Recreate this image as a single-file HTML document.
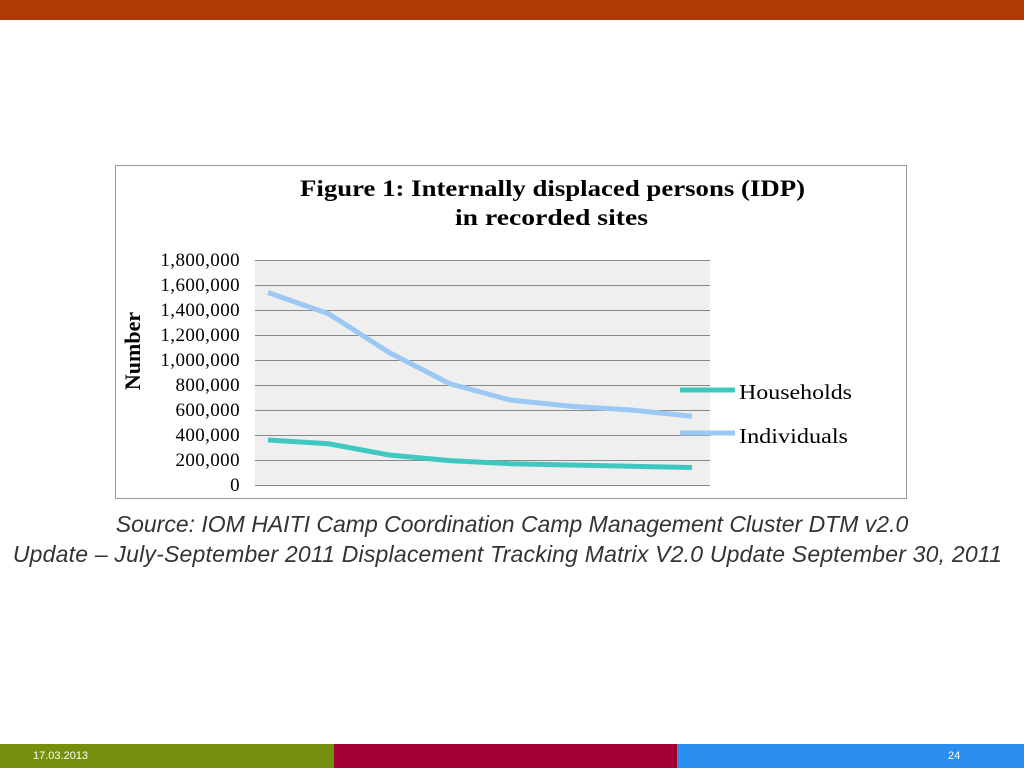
<!DOCTYPE html>
<html><head><meta charset="utf-8"><style>
body{margin:0;width:1024px;height:768px;position:relative;background:#fff;overflow:hidden;font-family:"Liberation Sans",sans-serif}
.abs{position:absolute}
</style></head><body>
<div class="abs" style="left:0;top:0;width:1024px;height:20px;background:#b03a04"></div>
<svg class="abs" style="left:0;top:0" width="1024" height="768">
<rect x="115.5" y="165.5" width="791" height="333" fill="#fff" stroke="#999"/>
<text x="300" y="196" textLength="505" lengthAdjust="spacingAndGlyphs" font-family="Liberation Serif" font-weight="bold" font-size="23">Figure 1: Internally displaced persons (IDP)</text>
<text x="455" y="225" textLength="193" lengthAdjust="spacingAndGlyphs" font-family="Liberation Serif" font-weight="bold" font-size="23">in recorded sites</text>
<rect x="255" y="260" width="455" height="225" fill="#efefef"/>
<g id="grid"></g><g id="ylab"></g><g id="lines"></g>
<text transform="translate(140,351) rotate(-90)" text-anchor="middle" font-family="Liberation Serif" font-weight="bold" font-size="22">Number</text>
<line x1="680" y1="390" x2="735" y2="390" stroke="#3ec8c0" stroke-width="5"/>
<text x="739" y="399" textLength="113" lengthAdjust="spacingAndGlyphs" font-family="Liberation Serif" font-size="21">Households</text>
<line x1="680" y1="433" x2="735" y2="433" stroke="#9cc8f4" stroke-width="5"/>
<text x="739" y="443" textLength="109" lengthAdjust="spacingAndGlyphs" font-family="Liberation Serif" font-size="21">Individuals</text>
</svg>
<div class="abs" style="left:0;width:1024px;top:511px;text-align:center;font-style:italic;font-size:23px;color:#333;white-space:nowrap">Source: IOM HAITI Camp Coordination Camp Management Cluster DTM v2.0</div>
<div class="abs" style="left:0;width:1015px;top:541px;text-align:center;font-style:italic;font-size:23px;color:#333;white-space:nowrap;letter-spacing:0.2px">Update – July-September 2011 Displacement Tracking Matrix V2.0 Update September 30, 2011</div>
<div class="abs" style="left:0;top:744px;width:334px;height:24px;background:#76900e"></div>
<div class="abs" style="left:334px;top:744px;width:343px;height:24px;background:#a50036"></div>
<div class="abs" style="left:677px;top:744px;width:347px;height:24px;background:#2a8ff0"></div>
<div class="abs" style="left:33px;top:750px;font-size:11px;color:#fff">17.03.2013</div>
<div class="abs" style="left:948px;top:750px;font-size:11px;color:#fff">24</div>
<script>
const yTicks=[0,200000,400000,600000,800000,1000000,1200000,1400000,1600000,1800000];
const individuals=[1540000,1370000,1060000,810000,680000,630000,600000,550000];
const households=[360000,330000,240000,195000,170000,160000,150000,140000];
const NS="http://www.w3.org/2000/svg";
const y=v=>485-v/1800000*225;
const x=i=>268+i*(692-268)/(individuals.length-1);
const grid=document.getElementById('grid'),ylab=document.getElementById('ylab'),lines=document.getElementById('lines');
yTicks.forEach(t=>{
 const l=document.createElementNS(NS,'line');
 l.setAttribute('x1',255);l.setAttribute('x2',710);l.setAttribute('y1',y(t)+0.5);l.setAttribute('y2',y(t)+0.5);
 l.setAttribute('stroke','#888');
 
 
 grid.appendChild(l);
 const tx=document.createElementNS(NS,'text');
 tx.setAttribute('x',240);tx.setAttribute('y',y(t)+6);tx.setAttribute('text-anchor','end');
 tx.setAttribute('font-family','Liberation Serif');tx.setAttribute('font-size','19');
 tx.setAttribute('letter-spacing','0.4');
 tx.textContent=t.toLocaleString('en-US');
 
 
 ylab.appendChild(tx);
});
[[individuals,'#9cc8f4','individuals-line'],[households,'#3ec8c0','households-line']].forEach(([d,c,n])=>{
 const p=document.createElementNS(NS,'polyline');
 p.setAttribute('points',d.map((v,i)=>x(i)+','+y(v)).join(' '));
 p.setAttribute('fill','none');p.setAttribute('stroke',c);p.setAttribute('stroke-width','5');p.setAttribute('stroke-linejoin','round');
 
 
 lines.appendChild(p);
});
</script>
</body></html>
